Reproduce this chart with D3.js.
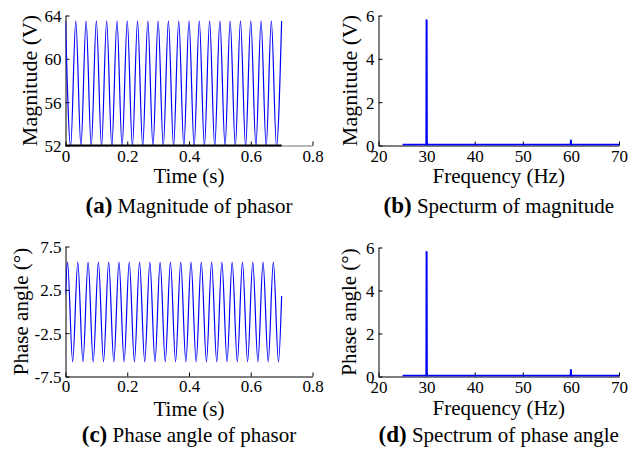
<!DOCTYPE html>
<html lang="en">
<head>
    <meta charset="UTF-8">
    <script src="https://cdnjs.cloudflare.com/ajax/libs/d3/7.8.5/d3.min.js"></script>
    <title>Phasor magnitude and phase angle</title>
    <style>
        body {
            margin: 0;
            background: #ffffff;
        }

        svg {
            display: block;
        }

        svg text {
            font-family: "Liberation Serif", "Times New Roman", serif;
            fill: #000000;
        }

        .tick-label {
            font-size: 17px;
        }

        .axis-label {
            font-size: 21px;
        }

        .caption {
            font-size: 21px;
        }

        .caption-tag {
            font-size: 23px;
            font-weight: bold;
        }
    </style>
</head>
<body>
    <script>
        // (a) magnitude of phasor: peaks and troughs of each half cycle
        const magTime = [0, 0.0167, 0.0333, 0.05, 0.0667, 0.0833, 0.1, 0.1167, 0.1333, 0.15,
            0.1667, 0.1833, 0.2, 0.2167, 0.2333, 0.25, 0.2667, 0.2833, 0.3, 0.3167,
            0.3333, 0.35, 0.3667, 0.3833, 0.4, 0.4167, 0.4333, 0.45, 0.4667, 0.4833,
            0.5, 0.5167, 0.5333, 0.55, 0.5667, 0.5833, 0.6, 0.6167, 0.6333, 0.65,
            0.6667, 0.6833, 0.7];
        const magValue = [63.5, 51.9, 63.5, 51.9, 63.5, 51.9, 63.5, 51.9, 63.5, 51.9,
            63.5, 51.9, 63.5, 51.9, 63.5, 51.9, 63.5, 51.9, 63.5, 51.9,
            63.5, 51.9, 63.5, 51.9, 63.5, 51.9, 63.5, 51.9, 63.5, 51.9,
            63.5, 51.9, 63.5, 51.9, 63.5, 51.9, 63.5, 51.9, 63.5, 51.9,
            63.5, 51.9, 63.5];

        // (c) phase angle of phasor
        const phaseTime = [0, 0.0065, 0.0232, 0.0398, 0.0565, 0.0732, 0.0898, 0.1065, 0.1232, 0.1398,
            0.1565, 0.1732, 0.1898, 0.2065, 0.2232, 0.2398, 0.2565, 0.2732, 0.2898, 0.3065,
            0.3232, 0.3398, 0.3565, 0.3732, 0.3898, 0.4065, 0.4232, 0.4398, 0.4565, 0.4732,
            0.4898, 0.5065, 0.5232, 0.5398, 0.5565, 0.5732, 0.5898, 0.6065, 0.6232, 0.6398,
            0.6565, 0.6732, 0.6898, 0.7];
        const phaseValue = [2.0, 5.7, -5.8, 5.7, -5.8, 5.7, -5.8, 5.7, -5.8, 5.7,
            -5.8, 5.7, -5.8, 5.7, -5.8, 5.7, -5.8, 5.7, -5.8, 5.7,
            -5.8, 5.7, -5.8, 5.7, -5.8, 5.7, -5.8, 5.7, -5.8, 5.7,
            -5.8, 5.7, -5.8, 5.7, -5.8, 5.7, -5.8, 5.7, -5.8, 5.7,
            -5.8, 5.7, -5.8, 1.8];

        // (b), (d) spectra
        const freqHz = [25, 29.95, 30, 30.05, 59.95, 60, 60.05, 70];
        const magSpectrum = [0.03, 0.03, 5.78, 0.03, 0.03, 0.23, 0.03, 0.03];
        const phaseSpectrum = [0.03, 0.03, 5.79, 0.03, 0.03, 0.3, 0.03, 0.03];

        // tick values
        const timeTicks = [0, 0.2, 0.4, 0.6, 0.8];
        const freqTicks = [20, 30, 40, 50, 60, 70];
        const magTicks = [52, 56, 60, 64];
        const phaseTicks = [-7.5, -2.5, 2.5, 7.5];
        const spectrumTicks = [0, 2, 4, 6];

        const width = 640;
        const height = 456;
        const tickSize = 4;
        const lineColor = '#0000ff';
        const axisColor = '#000000';

        const svg = d3.select('body')
            .append('svg')
            .attr('width', width)
            .attr('height', height);

        const panels = [
            {
                id: 'a', left: 65.5, right: 312.5, top: 15.5, bottom: 145.5,
                xDomain: [0, 0.8], yDomain: [52, 64], xTicks: timeTicks, yTicks: magTicks,
                xs: magTime, ys: magValue, smooth: true, strokeWidth: 1.2,
                xLabel: 'Time (s)', yLabel: 'Magnitude (V)', yLabelSize: 22,
                tickY: 161.5, xLabelY: 182.5, yLabelX: 29, captionY: 213,
                tag: '(a)', caption: ' Magnitude of phasor', axisUnderData: true
            },
            {
                id: 'b', left: 378.5, right: 619, top: 15.5, bottom: 145.5,
                xDomain: [20, 70], yDomain: [0, 6], xTicks: freqTicks, yTicks: spectrumTicks,
                xs: freqHz, ys: magSpectrum, smooth: false, strokeWidth: 2,
                xLabel: 'Frequency (Hz)', yLabel: 'Magnitude (V)', yLabelSize: 22,
                tickY: 161.5, xLabelY: 182.5, yLabelX: 349, captionY: 213,
                tag: '(b)', caption: ' Specturm of magnitude'
            },
            {
                id: 'c', left: 65.5, right: 312.5, top: 246.5, bottom: 376.5,
                xDomain: [0, 0.8], yDomain: [-7.5, 7.5], xTicks: timeTicks, yTicks: phaseTicks,
                xs: phaseTime, ys: phaseValue, smooth: true, strokeWidth: 1.2,
                xLabel: 'Time (s)', yLabel: 'Phase angle (°)', yLabelSize: 21,
                tickY: 391.5, xLabelY: 416, yLabelX: 21, captionY: 442,
                tag: '(c)', caption: ' Phase angle of phasor'
            },
            {
                id: 'd', left: 378.5, right: 619, top: 247.5, bottom: 376.5,
                xDomain: [20, 70], yDomain: [0, 6], xTicks: freqTicks, yTicks: spectrumTicks,
                xs: freqHz, ys: phaseSpectrum, smooth: false, strokeWidth: 2,
                xLabel: 'Frequency (Hz)', yLabel: 'Phase angle (°)', yLabelSize: 21,
                tickY: 392.5, xLabelY: 415, yLabelX: 349, captionY: 442,
                tag: '(d)', caption: ' Spectrum of phase angle'
            }
        ];

        panels.forEach(function(p) {
            const x = d3.scaleLinear().domain(p.xDomain).range([p.left, p.right]);
            const y = d3.scaleLinear().domain(p.yDomain).range([p.bottom, p.top]);
            const g = svg.append('g').attr('class', 'panel-' + p.id);

            // clip the curve to the plot box
            svg.append('clipPath')
                .attr('id', 'clip-' + p.id)
                .append('rect')
                .attr('x', p.left)
                .attr('y', p.top - 1)
                .attr('width', p.right - p.left)
                .attr('height', p.bottom - p.top + 1);

            // axes: ticks pointing inwards, no box
            const xAxis = d3.axisBottom(x)
                .tickValues(p.xTicks)
                .tickSizeInner(-tickSize)
                .tickSizeOuter(0)
                .tickFormat(function(d) { return String(d) });

            const yAxis = d3.axisLeft(y)
                .tickValues(p.yTicks)
                .tickSizeInner(-tickSize)
                .tickSizeOuter(0)
                .tickFormat(function(d) { return String(d) });

            const gx = g.append('g')
                .attr('transform', 'translate(0,' + p.bottom + ')')
                .call(xAxis);

            const gy = g.append('g')
                .attr('transform', 'translate(' + p.left + ',0)')
                .call(yAxis);

            [gx, gy].forEach(function(ax) {
                ax.attr('font-family', null).attr('font-size', null);
                ax.select('.domain').attr('stroke', p.axisUnderData ? '#707070' : axisColor);
                ax.selectAll('line').attr('stroke', axisColor);
                ax.selectAll('text').attr('class', 'tick-label');
            });
            gy.select('.domain').attr('stroke', axisColor);

            gx.selectAll('text')
                .attr('y', p.tickY - p.bottom)
                .attr('dy', 0);
            gy.selectAll('text')
                .attr('x', -4)
                .attr('dy', '0.35em');

            // data line
            const line = d3.line()
                .x(function(d) { return x(d[0]) })
                .y(function(d) { return y(d[1]) })
                .curve(p.smooth ? d3.curveMonotoneX : d3.curveLinear);

            const points = p.xs.map(function(v, i) { return [v, p.ys[i]] });

            g.append('path')
                .datum(points)
                .attr('clip-path', 'url(#clip-' + p.id + ')')
                .attr('fill', 'none')
                .attr('stroke', lineColor)
                .attr('stroke-width', p.strokeWidth)
                .attr('stroke-linejoin', 'round')
                .attr('d', line);

            // troughs clipped at the bottom edge darken the axis under the data
            if (p.axisUnderData) {
                const ext = d3.extent(p.xs);
                g.append('line')
                    .attr('x1', x(ext[0]))
                    .attr('x2', x(ext[1]))
                    .attr('y1', p.bottom)
                    .attr('y2', p.bottom)
                    .attr('stroke', axisColor)
                    .attr('stroke-width', 2);
            }

            // axis titles
            g.append('text')
                .attr('class', 'axis-label')
                .attr('x', (p.left + p.right) / 2)
                .attr('y', p.xLabelY)
                .attr('text-anchor', 'middle')
                .text(p.xLabel);

            g.append('text')
                .attr('class', 'axis-label')
                .attr('transform', 'translate(' + p.yLabelX + ',' + (p.top + p.bottom) / 2 + ') rotate(-90)')
                .attr('text-anchor', 'middle')
                .attr('dy', '0.35em')
                .style('font-size', p.yLabelSize + 'px')
                .text(p.yLabel);

            // sub-figure caption
            const cap = g.append('text')
                .attr('class', 'caption')
                .attr('x', (p.left + p.right) / 2)
                .attr('y', p.captionY)
                .attr('text-anchor', 'middle');

            cap.append('tspan').attr('class', 'caption-tag').text(p.tag);
            cap.append('tspan').text(p.caption);
        });
    </script>
</body>
</html>
